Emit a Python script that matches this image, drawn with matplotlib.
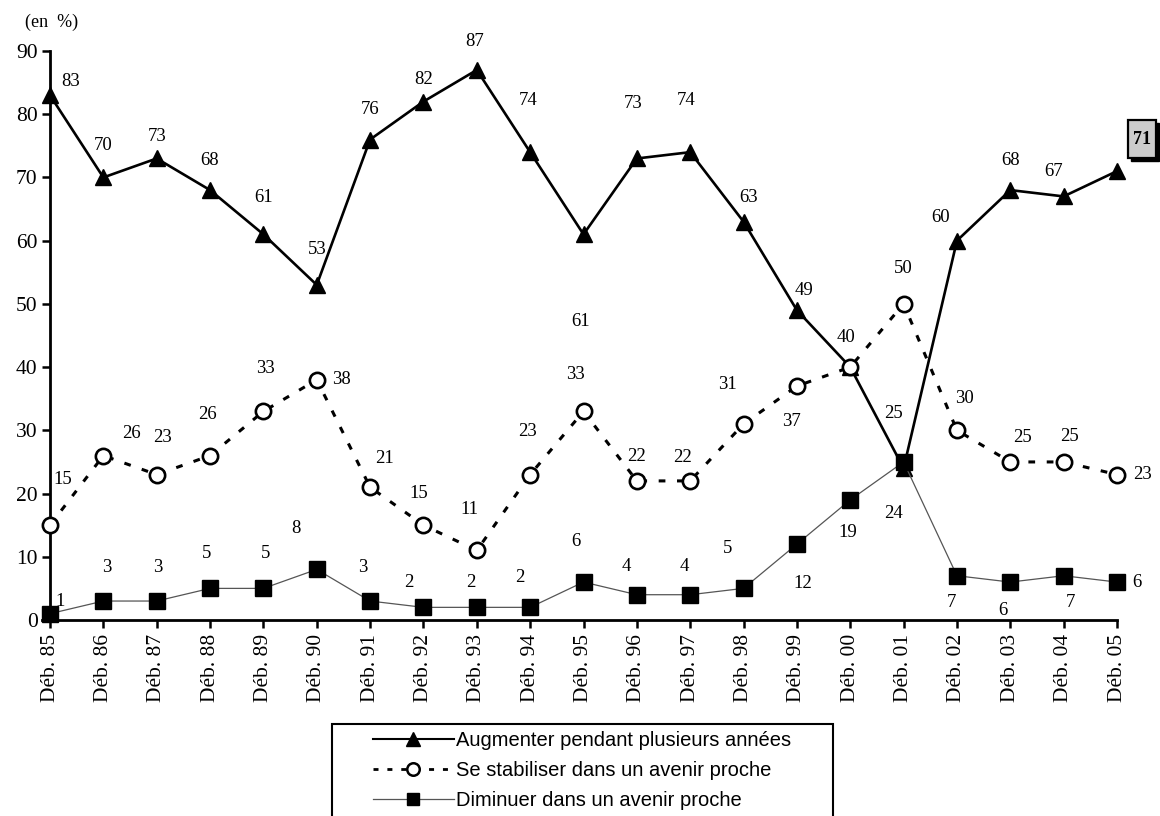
import matplotlib
matplotlib.use("Agg")
import matplotlib.pyplot as plt
from matplotlib.lines import Line2D
from matplotlib.patches import Rectangle
from matplotlib.transforms import IdentityTransform

# Survey results, in percent, from Déb. 85 to Déb. 05
periods = ["Déb. 85", "Déb. 86", "Déb. 87", "Déb. 88", "Déb. 89", "Déb. 90",
           "Déb. 91", "Déb. 92", "Déb. 93", "Déb. 94", "Déb. 95", "Déb. 96",
           "Déb. 97", "Déb. 98", "Déb. 99", "Déb. 00", "Déb. 01", "Déb. 02",
           "Déb. 03", "Déb. 04", "Déb. 05"]
augmenter = [83, 70, 73, 68, 61, 53, 76, 82, 87, 74, 61, 73, 74, 63, 49, 40, 24, 60, 68, 67, 71]
stabiliser = [15, 26, 23, 26, 33, 38, 21, 15, 11, 23, 33, 22, 22, 31, 37, 40, 50, 30, 25, 25, 23]
diminuer = [1, 3, 3, 5, 5, 8, 3, 2, 2, 2, 6, 4, 4, 5, 12, 19, 25, 7, 6, 7, 6]

labels_series = ["Augmenter pendant plusieurs années",
                 "Se stabiliser dans un avenir proche",
                 "Diminuer dans un avenir proche"]
y_ticks = [0, 10, 20, 30, 40, 50, 60, 70, 80, 90]

# Offsets (pixels) of each value label from its marker
off_aug = [(21, 14), (0, 32), (0, 22), (0, 30), (0, 37), (0, 35), (0, 30), (0, 22),
           (-2, 28), (-2, 52), (-3, -87), (-4, 55), (-4, 52), (5, 24), (7, 20),
           (-4, 30), (-10, -45), (-16, 23), (0, 30), (-10, 25), None]
off_stab = [(13, 46), (28, 22), (6, 37), (-3, 41), (2, 43), (25, 0), (14, 29), (-5, 32),
            (-7, 41), (-3, 43), (-8, 37), (0, 24), (-8, 23), (-16, 40), (-5, -35),
            None, (0, 35), (7, 32), (12, 24), (6, 25), (25, 0)]
off_dim = [(10, 12), (3, 34), (1, 34), (-3, 35), (2, 35), (-21, 41), (-7, 34), (-15, 25),
           (-6, 25), (-10, 30), (-8, 41), (-11, 28), (-6, 28), (-16, 40), (6, -39),
           (-2, -33), (-10, 48), (-6, -27), (-7, -28), (7, -27), (20, 0)]

serif = "Liberation Serif"
sans = "Liberation Sans"

fig = plt.figure(figsize=(11.6, 8.16), dpi=100)
ax = fig.add_axes([42 / 1160, (816 - 620) / 816, (1117 - 42) / 1160, (620 - 51) / 816])

x = list(range(len(periods)))

ax.plot(x, augmenter, color="black", lw=1.9, marker="^", ms=12,
        mfc="black", mec="black", clip_on=False, zorder=3)
ax.plot(x, stabiliser, color="black", lw=2.2, ls=(0, (2.2, 3.8)), marker="o", ms=11,
        mfc="white", mec="black", mew=1.9, clip_on=False, zorder=4)
ax.plot(x, diminuer, color="#555555", lw=0.9, marker="s", ms=11,
        mfc="black", mec="black", clip_on=False, zorder=5)

def put_labels(values, offsets):
    for i, (v, off) in enumerate(zip(values, offsets)):
        if off is None:
            continue
        ax.annotate(str(v), (i, v), xytext=off, textcoords="offset pixels",
                    ha="center", va="center", fontsize=13.5, family=serif,
                    annotation_clip=False, zorder=6)

put_labels(augmenter, off_aug)
put_labels(stabiliser, off_stab)
put_labels(diminuer, off_dim)

ax.set_xlim(-0.15, len(periods) - 1)
ax.set_ylim(0, 90)
ax.spines["left"].set_position(("data", 0))
for s in ("top", "right"):
    ax.spines[s].set_visible(False)
for s in ("left", "bottom"):
    ax.spines[s].set_linewidth(2.0)

ax.set_xticks(x)
ax.set_xticklabels(periods, rotation=90, fontsize=15.5, family=serif)
ax.set_yticks(y_ticks)
ax.set_yticklabels([str(t) for t in y_ticks], fontsize=15.5, family=serif)
ax.tick_params(axis="both", direction="out", length=6, width=1.8, pad=3)
ax.tick_params(axis="x", pad=4)

# Highlighted latest value: grey box with a drop shadow, placed from the last point
last = len(augmenter) - 1
px, py = ax.transData.transform((last, augmenter[last]))
fig.add_artist(Rectangle((px + 14, py + 10), 28, 38, transform=IdentityTransform(),
                         fc="black", ec="black", lw=1.0, zorder=6))
fig.add_artist(Rectangle((px + 11, py + 13), 28, 38, transform=IdentityTransform(),
                         fc="#cccccc", ec="black", lw=1.6, zorder=7))
fig.text(px + 25, py + 32, str(augmenter[last]), transform=IdentityTransform(),
         ha="center", va="center", fontsize=13, family=serif, fontweight="bold",
         zorder=8)

fig.text(52 / 1160, 1 - 22 / 816, "(en  %)", ha="center", va="center",
         fontsize=13, family=serif)

handles = [
    Line2D([], [], color="black", lw=1.5, marker="^", ms=10, mfc="black", mec="black"),
    Line2D([], [], color="black", lw=2.0, ls=(0, (1.8, 3.2)), marker="o", ms=9,
           mfc="white", mec="black", mew=1.8),
    Line2D([], [], color="#555555", lw=0.9, marker="s", ms=9, mfc="black", mec="black"),
]
leg = fig.legend(handles, labels_series, loc="upper left",
                 bbox_to_anchor=(373 / 1160, 1 - 731 / 816), numpoints=1,
                 prop={"family": sans, "size": 14.5}, handlelength=4.0,
                 handletextpad=0.1, labelspacing=0.55, borderpad=0,
                 borderaxespad=0, frameon=False)

# Legend frame running off the bottom edge
fig.add_artist(Rectangle((332 / 1160, -0.05), (833 - 332) / 1160,
                         (816 - 724) / 816 + 0.05, transform=fig.transFigure,
                         fill=False, ec="black", lw=1.5))

fig.savefig("out.png", dpi=100, facecolor="white")
